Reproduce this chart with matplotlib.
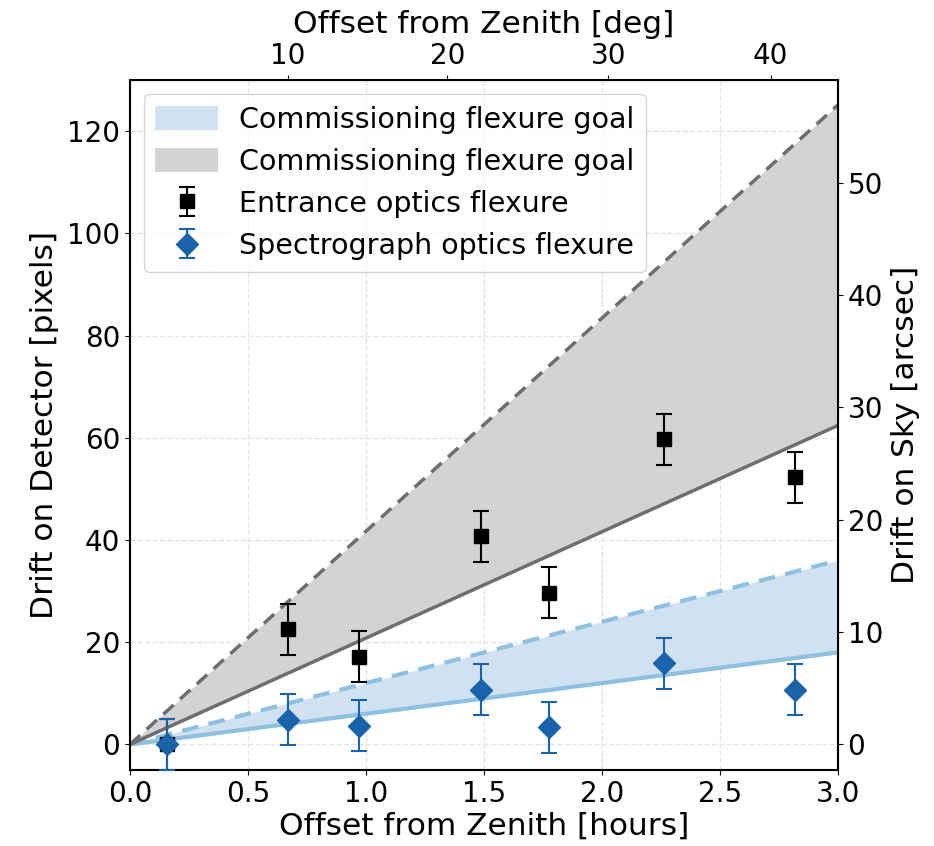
import numpy as np
import matplotlib
matplotlib.use("Agg")
import matplotlib.pyplot as plt

# ---- data ----
hours_line = [0.0, 3.0]
blue_goal_lo_slope = 6.0      # pixels per hour
blue_goal_hi_slope = 12.0
gray_goal_lo_slope = 20.8
gray_goal_hi_slope = 41.7

obs_hours = [0.156, 0.670, 0.969, 1.487, 1.776, 2.262, 2.818]
entrance_drift = [0.0, 22.5, 17.2, 40.7, 29.7, 59.7, 52.3]
entrance_err = [5, 5, 5, 5, 5, 5, 5]
spectro_drift = [0.0, 4.8, 3.7, 10.7, 3.4, 15.9, 10.7]
spectro_err = [5, 5, 5, 5, 5, 5, 5]

arcsec_per_pixel = 0.455
top_ticks = [10, 20, 30, 40]

plt.rcParams['font.family'] = ['DejaVu Sans']
plt.rcParams['font.size'] = 20
LABEL_FS = 22.5

fig = plt.figure(figsize=(9.34, 8.46), dpi=100)
ax = fig.add_axes([0.139, 0.0898, 0.758, 0.8156])

h = np.array(hours_line)
blue_lo = blue_goal_lo_slope * h
blue_hi = blue_goal_hi_slope * h
gray_lo = gray_goal_lo_slope * h
gray_hi = gray_goal_hi_slope * h

ax.fill_between(h, blue_lo, blue_hi, color='#d0e1f1', lw=0, zorder=1,
                label='Commissioning flexure goal')
ax.fill_between(h, gray_lo, gray_hi, color='#d3d3d3', lw=0, zorder=1,
                label='Commissioning flexure goal')
ax.plot(h, blue_lo, color='#8dc0e1', lw=3, zorder=2)
ax.plot(h, blue_hi, color='#8dc0e1', lw=3, ls=(0, (4, 2.5)), zorder=2)
ax.plot(h, gray_lo, color='#6e6e6e', lw=2.5, zorder=2)
ax.plot(h, gray_hi, color='#6e6e6e', lw=2.5, ls=(0, (4, 2.5)), zorder=2)

ax.errorbar(obs_hours, entrance_drift, yerr=entrance_err, fmt='s', color='black',
            ms=10, capsize=6, elinewidth=1.5, capthick=1.5, zorder=4,
            label='Entrance optics flexure')
ax.errorbar(obs_hours, spectro_drift, yerr=spectro_err, fmt='D', color='#1a63ab',
            ms=11, capsize=6, elinewidth=1.5, capthick=1.5, zorder=5,
            label='Spectrograph optics flexure')

ax.set_xlim(0, 3.0)
ax.set_ylim(-5, 130)
ax.set_xticks([0.0, 0.5, 1.0, 1.5, 2.0, 2.5, 3.0])
ax.set_yticks([0, 20, 40, 60, 80, 100, 120])
ax.grid(True, ls='--', color='#e4e4e4', lw=1)
ax.set_axisbelow(True)
ax.set_xlabel('Offset from Zenith [hours]', fontsize=LABEL_FS, labelpad=3)
ax.set_ylabel('Drift on Detector [pixels]', fontsize=LABEL_FS, labelpad=6)
for s in ax.spines.values():
    s.set_linewidth(1.5)

# right axis: arcsec
sec_y = ax.secondary_yaxis('right', functions=(lambda p: p * arcsec_per_pixel,
                                                lambda a: a / arcsec_per_pixel))
sec_y.set_yticks([0, 10, 20, 30, 40, 50])
sec_y.set_ylabel('Drift on Sky [arcsec]', fontsize=LABEL_FS, labelpad=6)
sec_y.spines['right'].set_color('#555555')
sec_y.spines['right'].set_linewidth(1.5)

# top axis: degrees
def h2d(x):
    x = np.asarray(x, dtype=float)
    return 15.0 * x - 0.1 * x ** 2

def d2h(d):
    d = np.asarray(d, dtype=float)
    return (15.0 - np.sqrt(np.clip(225.0 - 0.4 * d, 0, None))) / 0.2

sec_x = ax.secondary_xaxis('top', functions=(h2d, d2h))
sec_x.set_xticks(top_ticks)
sec_x.set_xlabel('Offset from Zenith [deg]', fontsize=LABEL_FS, labelpad=7)

leg = ax.legend(loc='upper left', fontsize=20.5, framealpha=0.8, borderpad=0.4,
                handlelength=2.2, handleheight=0.9, handletextpad=0.75,
                borderaxespad=0.5)

fig.savefig('out.png', dpi=100)
